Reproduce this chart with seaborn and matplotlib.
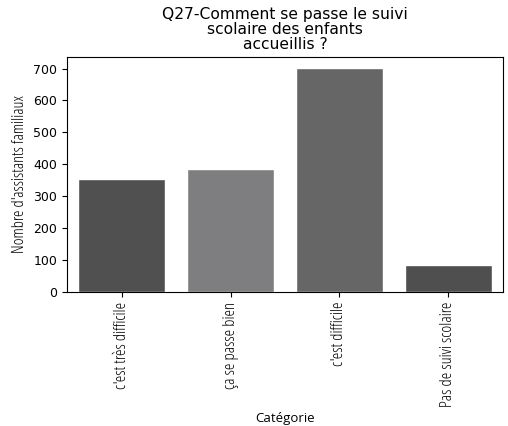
import matplotlib
matplotlib.use("Agg")
import matplotlib.pyplot as plt
import seaborn as sns
import pandas as pd

categories = ["c'est très difficile", "ça se passe bien", "c'est difficile", "Pas de suivi scolaire"]
values = [355, 386, 701, 85]
colors = ["#505050", "#7e7e80", "#666666", "#4f4f4f"]

df = pd.DataFrame({"Catégorie": categories, "Nombre": values})

sns.set_style("ticks", {"text.color": "black", "axes.labelcolor": "black",
                        "xtick.color": "black", "ytick.color": "black",
                        "axes.edgecolor": "black"})
plt.rcParams['font.family'] = ['DejaVu Sans']

fig = plt.figure(figsize=(5.08, 4.26), dpi=100)
ax = fig.add_axes([0.132, 0.315, 0.858, 0.551])
sns.barplot(data=df, x="Catégorie", y="Nombre", hue="Catégorie", palette=colors,
            legend=False, ax=ax, saturation=1)
ax.set_title("Q27-Comment se passe le suivi\nscolaire des enfants\naccueillis ?", fontsize=11.2,
             linespacing=1.0)
cf = ["Open Sans", "DejaVu Sans"]
ax.set_ylabel("Nombre d'assistants familiaux", fontsize=11.8, family=cf, stretch='condensed',
              weight=500)
ax.set_xlabel("Catégorie", fontsize=9.5, family=cf, weight=500)
ax.tick_params(axis='y', labelsize=9)
for lab in ax.get_xticklabels():
    lab.set_rotation(90)
    lab.set_fontsize(12)
    lab.set_family(cf)
    lab.set_stretch('condensed')
    lab.set_weight(500)
fig.savefig("out.png", dpi=100)
